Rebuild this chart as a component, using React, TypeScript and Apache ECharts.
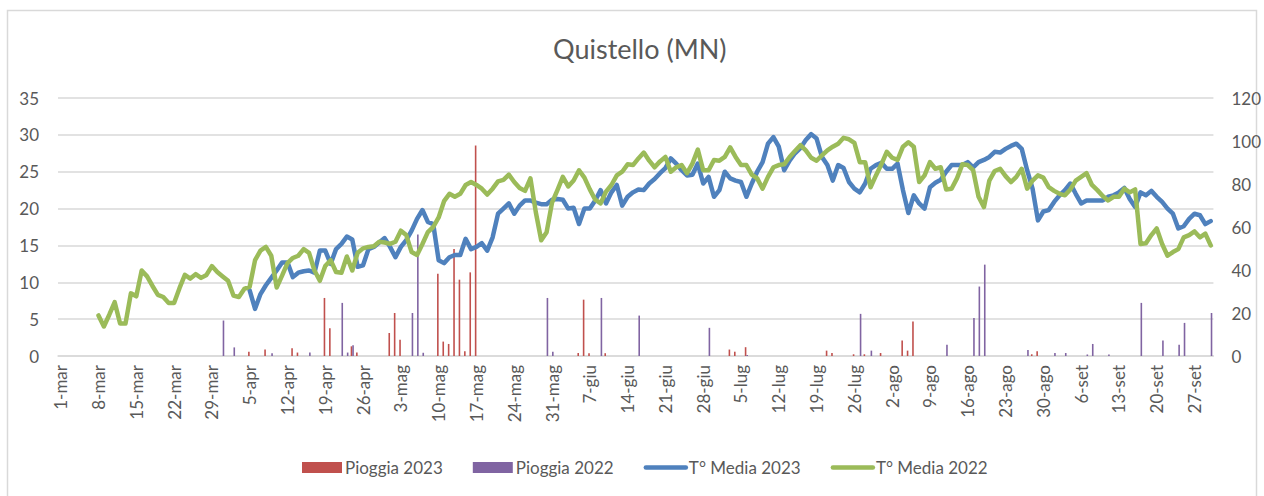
import React, { useEffect, useRef } from "react";
import * as echarts from "echarts";

// Category axis: daily, 1-mar .. 30-set
const months = ["mar", "apr", "mag", "giu", "lug", "ago", "set"];
const monthDays = [31, 30, 31, 30, 31, 31, 30];

// Temperature axis (left) and rain axis (right)
const tempAxis = { min: 0, max: 35, interval: 5 };
const rainAxis = { min: 0, max: 120, interval: 20 };

// T° Media 2022 starts on 8-mar
const t2022Start = "8-mar";
const t2022 = [
  5.5, 4.0, 5.6, 7.3, 4.4, 4.4, 8.5, 8.1, 11.6, 10.8, 9.5, 8.3, 8.0, 7.2, 7.2, 9.2,
  11.0, 10.5, 11.1, 10.6, 11.0, 12.2, 11.4, 10.8, 10.2, 8.2, 8.0, 9.1, 9.4, 13.0,
  14.3, 14.8, 13.6, 9.3, 10.9, 12.6, 13.3, 13.6, 14.5, 14.0, 11.6, 10.2, 12.2, 13.0,
  11.4, 11.3, 13.5, 11.6, 14.0, 14.6, 14.8, 14.9, 15.5, 15.4, 15.2, 15.5, 17.0, 16.4,
  14.1, 13.7, 15.2, 16.8, 17.5, 18.8, 21.0, 22.0, 21.6, 22.0, 23.2, 23.6, 23.2, 22.7,
  21.9, 22.7, 23.7, 23.9, 24.6, 23.6, 22.8, 22.4, 24.1, 19.5, 15.7, 16.8, 20.8, 22.5,
  24.3, 23.0, 23.8, 25.2, 24.2, 22.6, 21.2, 20.7, 22.3, 23.2, 24.5, 25.0, 26.0, 25.9,
  26.8, 27.6, 26.5, 25.6, 26.4, 27.0, 25.0, 25.6, 25.9, 24.8, 26.1, 28.0, 25.2, 25.2,
  26.6, 26.5, 27.0, 28.3, 27.0, 25.9, 25.9, 24.6, 24.1, 22.7, 24.3, 25.6, 25.9, 26.0,
  27.0, 27.8, 28.6, 27.9, 26.9, 26.5, 27.2, 27.9, 28.4, 28.8, 29.6, 29.4, 28.9, 26.3,
  26.3, 22.9, 24.5, 26.0, 27.7, 26.9, 26.6, 28.4, 29.0, 28.4, 23.6, 24.5, 26.3, 25.4,
  25.6, 22.6, 22.7, 24.1, 26.0, 25.9, 25.2, 21.6, 20.2, 23.8, 25.1, 25.4, 24.4, 23.6,
  24.3, 25.4, 22.7, 23.8, 24.5, 24.2, 22.9, 22.4, 22.0, 21.8, 22.6, 23.8, 24.3, 24.8,
  23.2, 22.5, 21.7, 21.1, 21.6, 21.6, 22.7, 22.2, 22.6, 15.2, 15.3, 16.4, 17.3, 15.2,
  13.6, 14.1, 14.5, 16.1, 16.4, 16.9, 16.1, 16.6, 15.0,
];

// T° Media 2023 starts on 5-apr
const t2023Start = "5-apr";
const t2023 = [
  8.9, 6.4, 8.4, 9.6, 10.6, 11.6, 12.7, 12.7, 10.7, 11.3, 11.5, 11.6, 11.3, 14.3, 14.3,
  12.5, 14.5, 15.2, 16.2, 15.8, 12.1, 12.3, 14.5, 14.8, 15.4, 16.0, 14.8, 13.4, 14.8,
  15.7, 17.0, 18.6, 19.8, 18.2, 17.9, 13.0, 12.6, 13.4, 13.7, 13.7, 15.9, 14.5, 14.8,
  15.3, 14.3, 16.1, 19.3, 20.0, 20.7, 19.3, 20.4, 21.1, 21.1, 20.8, 20.6, 20.6, 21.2,
  21.3, 21.2, 20.0, 20.1, 17.9, 20.0, 20.0, 21.1, 22.5, 20.7, 22.2, 23.2, 20.4, 21.6,
  22.2, 22.6, 22.5, 23.4, 24.0, 24.8, 25.5, 26.8, 26.1, 25.2, 24.5, 24.6, 26.1, 23.4,
  24.3, 21.6, 22.5, 25.0, 24.1, 23.8, 23.6, 21.6, 23.4, 25.0, 26.3, 28.8, 29.7, 28.4,
  25.2, 26.5, 27.5, 28.2, 29.3, 30.1, 29.5, 27.0, 25.9, 23.8, 25.9, 25.5, 23.6, 22.7,
  22.2, 23.4, 25.4, 25.9, 26.2, 25.4, 25.4, 26.1, 22.5, 19.4, 21.8, 20.7, 20.0, 22.9,
  23.5, 23.9, 25.0, 25.9, 25.9, 25.9, 26.3, 25.6, 26.3, 26.6, 27.0, 27.7, 27.6, 28.1,
  28.5, 28.8, 28.1, 25.2, 22.7, 18.4, 19.6, 19.8, 20.9, 21.8, 22.5, 23.4, 22.0, 20.7,
  21.1, 21.1, 21.1, 21.1, 21.6, 21.8, 22.2, 22.8, 21.3, 20.2, 22.2, 21.8, 22.4, 21.6,
  20.9, 20.0, 19.3, 17.3, 17.6, 18.6, 19.3, 19.1, 17.9, 18.3,
];

// Rain (mm, right axis) per rainy day
const rain2023Days = [
  "5-apr", "8-apr", "13-apr", "14-apr", "19-apr", "20-apr", "24-apr", "25-apr",
  "1-mag", "2-mag", "3-mag", "10-mag", "11-mag", "12-mag", "13-mag", "14-mag", "15-mag",
  "16-mag", "17-mag", "5-giu", "6-giu", "7-giu", "10-giu", "3-lug", "4-lug", "6-lug",
  "21-lug", "22-lug", "26-lug", "28-lug", "31-lug", "4-ago", "5-ago", "6-ago",
  "28-ago", "29-ago",
];
const rain2023Values = [
  2.0, 3.0, 3.6, 1.6, 27.0, 12.9, 4.5, 1.6,
  10.7, 20.0, 7.6, 38.2, 6.7, 5.6, 49.8, 35.5, 2.2,
  38.9, 97.9, 1.4, 26.2, 1.3, 1.3, 3.0, 2.0, 4.1,
  2.5, 1.4, 0.8, 0.8, 1.4, 7.2, 2.5, 16.0,
  0.8, 2.2,
];
const rain2022Days = [
  "31-mar", "2-apr", "9-apr", "16-apr", "22-apr", "23-apr", "24-apr", "5-mag", "6-mag",
  "7-mag", "30-mag", "31-mag", "9-giu", "16-giu", "29-giu", "6-lug", "27-lug", "29-lug",
  "12-ago", "17-ago", "18-ago", "19-ago", "27-ago", "1-set", "3-set", "7-set", "8-set",
  "11-set", "17-set", "21-set", "24-set", "25-set", "30-set",
];
const rain2022Values = [
  16.5, 4.0, 1.3, 1.6, 24.7, 1.6, 5.0, 20.0, 56.5,
  1.5, 27.0, 2.0, 27.0, 18.8, 13.1, 0.5, 19.6, 2.5,
  5.2, 17.7, 32.3, 42.5, 2.8, 1.4, 1.4, 0.7, 5.6,
  0.7, 24.7, 7.2, 5.2, 15.4, 20.0,
];

const categories: string[] = [];
months.forEach((m, i) => {
  for (let d = 1; d <= monthDays[i]; d++) categories.push(`${d}-${m}`);
});

function fromStart(start: string, vals: number[]) {
  const out: (number | null)[] = categories.map(() => null);
  const s = categories.indexOf(start);
  vals.forEach((v, i) => {
    out[s + i] = v;
  });
  return out;
}
function fromDays(days: string[], vals: number[]) {
  const out: (number | null)[] = categories.map(() => null);
  days.forEach((d, i) => {
    out[categories.indexOf(d)] = vals[i];
  });
  return out;
}

const FONT = "Lato";
const TXT = "#595959";

export default function App() {
  const ref = useRef<HTMLDivElement>(null);
  useEffect(() => {
    if (!ref.current) return;
    const chart = echarts.init(ref.current, undefined, { renderer: "svg" });
    chart.setOption({
      animation: false,
      backgroundColor: "#ffffff",
      textStyle: { fontFamily: FONT },
      title: {
        text: "Quistello (MN)",
        left: 553,
        top: 35,
        padding: 0,
        textStyle: { fontFamily: FONT, fontSize: 27, fontWeight: "normal", color: TXT },
      },
      graphic: [
        {
          type: "rect",
          shape: { x: 7.5, y: 10.5, width: 1249, height: 495 },
          style: { fill: "none", stroke: "#D9D9D9", lineWidth: 1.5 },
          silent: true,
          z: -1,
        },
      ],
      legend: {
        left: 297,
        top: 454,
        itemGap: 30,
        itemWidth: 40,
        itemHeight: 11,
        textStyle: { fontFamily: FONT, fontSize: 17, color: TXT, padding: [0, 0, 0, -2] },
        data: [
          { name: "Pioggia 2023", icon: "rect" },
          { name: "Pioggia 2022", icon: "rect" },
          {
            name: "T° Media 2023",
            itemStyle: { opacity: 0 },
            lineStyle: { width: 4.5, cap: "round" },
          },
          {
            name: "T° Media 2022",
            itemStyle: { opacity: 0 },
            lineStyle: { width: 4.5, cap: "round" },
          },
        ],
      },
      grid: { left: 58, right: 49, top: 98, bottom: 140 },
      xAxis: {
        type: "category",
        data: categories,
        boundaryGap: true,
        axisLine: { lineStyle: { color: "#D9D9D9", width: 1.5 } },
        axisTick: { show: false },
        axisLabel: {
          interval: 6,
          rotate: 90,
          margin: 9,
          fontFamily: FONT,
          fontSize: 17,
          color: TXT,
        },
      },
      yAxis: [
        {
          type: "value",
          ...tempAxis,
          axisLine: { show: false },
          axisTick: { show: false },
          splitLine: { lineStyle: { color: "#D9D9D9", width: 1.5 } },
          axisLabel: { margin: 19, fontFamily: FONT, fontSize: 17, color: TXT },
        },
        {
          type: "value",
          ...rainAxis,
          position: "right",
          axisLine: { show: false },
          axisTick: { show: false },
          splitLine: { show: false },
          axisLabel: { margin: 18, fontFamily: FONT, fontSize: 17, color: TXT },
        },
      ],
      series: [
        {
          name: "Pioggia 2023",
          type: "bar",
          yAxisIndex: 1,
          data: fromDays(rain2023Days, rain2023Values),
          barWidth: 1.6,
          barGap: "0%",
          itemStyle: { color: "#C0504D" },
        },
        {
          name: "Pioggia 2022",
          type: "bar",
          yAxisIndex: 1,
          data: fromDays(rain2022Days, rain2022Values),
          barWidth: 1.6,
          barGap: "0%",
          itemStyle: { color: "#8064A2" },
        },
        {
          name: "T° Media 2023",
          type: "line",
          yAxisIndex: 0,
          data: fromStart(t2023Start, t2023),
          symbol: "none",
          showSymbol: false,
          itemStyle: { color: "#4F81BD" },
          lineStyle: { color: "#4F81BD", width: 4.5, cap: "round", join: "round" },
        },
        {
          name: "T° Media 2022",
          type: "line",
          yAxisIndex: 0,
          data: fromStart(t2022Start, t2022),
          symbol: "none",
          showSymbol: false,
          itemStyle: { color: "#9BBB59" },
          lineStyle: { color: "#9BBB59", width: 4.5, cap: "round", join: "round" },
        },
      ],
    });
    return () => chart.dispose();
  }, []);
  return (
    <div
      ref={ref}
      style={{ position: "fixed", left: 0, top: 0, width: 1264, height: 496 }}
    />
  );
}
